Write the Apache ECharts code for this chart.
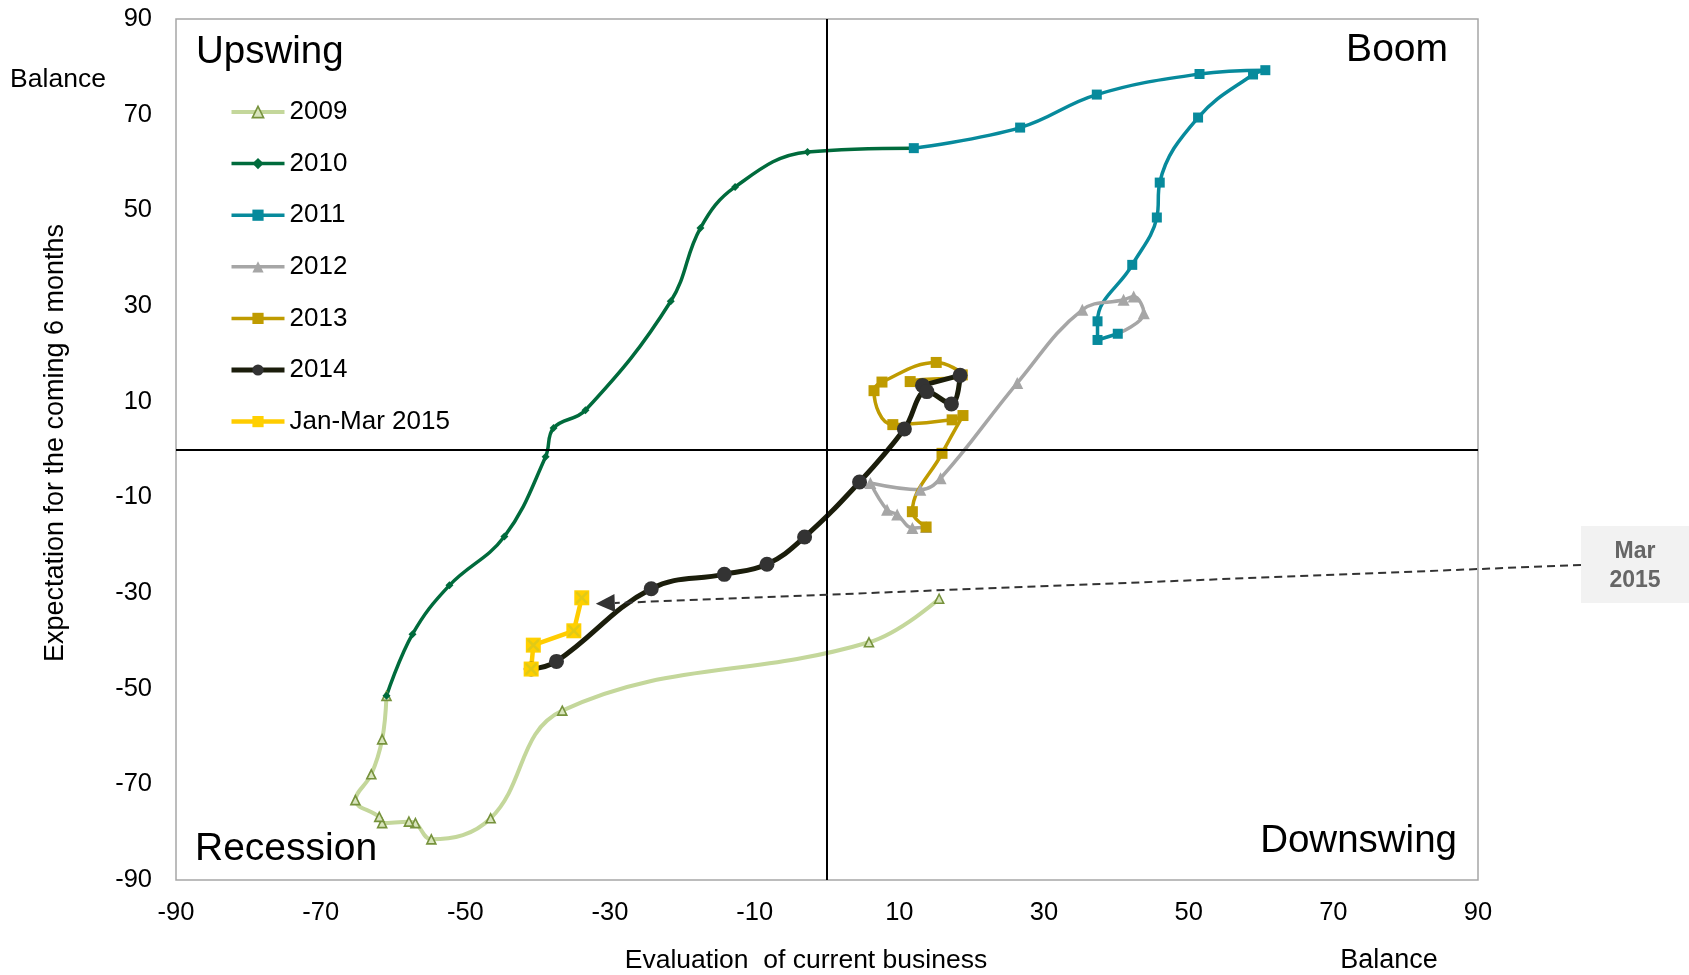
<!DOCTYPE html>
<html><head><meta charset="utf-8">
<script src="https://cdn.jsdelivr.net/npm/echarts@6/dist/echarts.min.js"></script>
<style>html,body{margin:0;padding:0;background:#fff}#c{width:1689px;height:975px}</style>
</head><body><div id="c"></div>
<script>
// ---- data ----
const tickLabels = [-90, -70, -50, -30, -10, 10, 30, 50, 70, 90];
const seriesNames = ['2009', '2010', '2011', '2012', '2013', '2014', 'Jan-Mar 2015'];
const d2009 = [[15.5,-31.2],[5.8,-40.3],[-36.6,-54.6],[-46.5,-77.1],[-54.7,-81.5],[-56.9,-78.1],[-57.8,-77.8],[-61.5,-78.1],[-61.9,-76.8],[-65.2,-73.3],[-63.0,-67.9],[-61.5,-60.6]];
const d2010 = [[-60.9,-51.5],[-57.3,-38.6],[-52.2,-28.4],[-44.6,-18.2],[-38.9,-1.5],[-37.8,4.5],[-33.4,8.2],[-21.6,31.0],[-17.5,46.3],[-12.7,54.9],[-2.7,62.2]];
const d2011 = [[12.0,63.0],[26.7,67.3],[37.3,74.2],[51.5,78.5],[60.6,79.3],[58.9,78.4],[51.3,69.4],[46.0,55.8],[45.6,48.5],[42.2,38.6],[37.4,26.8],[37.4,22.9]];
const d2012 = [[40.2,24.2],[43.8,28.5],[42.4,32.0],[41.0,31.3],[35.3,29.2],[26.3,13.9],[15.7,-6.0],[12.9,-8.4],[6.0,-7.0],[8.3,-12.6],[9.7,-13.6],[11.8,-16.4]];
const d2013 = [[13.7,-16.2],[11.8,-13.0],[15.9,-0.8],[18.8,7.1],[17.3,6.2],[9.1,5.2],[6.5,12.3],[7.6,14.1],[15.1,18.2],[18.7,15.6],[11.5,14.2]];
const d2014 = [[13.2,13.4],[18.4,15.5],[17.2,9.5],[13.8,12.1],[10.7,4.3],[4.5,-6.8],[-3.1,-18.3],[-8.3,-24.0],[-14.2,-26.1],[-24.3,-29.1],[-37.4,-44.3]];
const d2015 = [[-40.9,-45.9],[-40.6,-40.9],[-35.0,-37.9],[-33.9,-31.0]];
const annotationText = 'Mar\n2015';

// ---- chart ----
const FONT = "'Liberation Sans', Arial, sans-serif";
const chart = echarts.init(document.getElementById('c'), null, {renderer: 'canvas'});

const styles = [
  {line: '#c4d79b', width: 4, symbol: 'triangle', size: 9, fill: '#d8e4bc', border: '#76923c', bw: 1.6},
  {line: '#006b3c', width: 3.5, symbol: 'diamond', size: 8},
  {line: '#078a9c', width: 3.5, symbol: 'rect', size: 10},
  {line: '#a6a6a6', width: 3.5, symbol: 'triangle', size: 12},
  {line: '#bf9b00', width: 3.5, symbol: 'rect', size: 11},
  {line: '#1b1d0b', width: 5, symbol: 'circle', size: 15, fill: '#333333'},
  {line: '#ffcc00', width: 4.5, symbol: 'rect', size: 15, fill: '#ffd000', smooth: false}
];

function seriesData(own, next, hideFirst) {
  const arr = own.map((p, i) => (i === 0 && hideFirst) ? {value: p, symbol: 'none'} : p);
  if (next) arr.push(next[0]);
  return arr;
}
function itemStyleOf(o) {
  return Object.assign({color: o.fill || o.line}, o.border ? {borderColor: o.border, borderWidth: o.bw} : {borderWidth: 0});
}
function lineSeries(name, data, o) {
  return {
    name: name, type: 'line', data: data, smooth: o.smooth === undefined ? 0.4 : o.smooth,
    symbol: o.symbol, symbolSize: o.size, showSymbol: true, clip: false,
    lineStyle: {color: o.line, width: o.width},
    itemStyle: itemStyleOf(o),
    emphasis: {disabled: true}, z: 3
  };
}
const xPath = 'path://M0,0L3,0L10,7L17,0L20,0L20,3L13,10L20,17L20,20L17,20L10,13L3,20L0,20L0,17L7,10L0,3Z';

const option = {
  animation: false,
  backgroundColor: '#fff',
  grid: {left: 176, right: 211, top: 19, bottom: 95, show: true, borderColor: '#a6a6a6', borderWidth: 1.5, backgroundColor: 'transparent'},
  xAxis: {type: 'value', min: -90, max: 90,
    axisLine: {show: false}, axisTick: {show: false}, splitLine: {show: false},
    axisLabel: {customValues: tickLabels, fontSize: 25.5, color: '#000', fontFamily: FONT, margin: 20}},
  yAxis: {type: 'value', min: -90, max: 90,
    axisLine: {show: false}, axisTick: {show: false}, splitLine: {show: false},
    axisLabel: {customValues: tickLabels, fontSize: 25.5, color: '#000', fontFamily: FONT, margin: 24}},
  legend: {
    data: seriesNames.map((n, i) => ({
      name: n,
      lineStyle: {color: styles[i].line, width: styles[i].width},
      itemStyle: itemStyleOf(styles[i])
    })),
    orient: 'vertical', left: 229, top: 99, itemGap: 25.6, padding: 0,
    itemWidth: 53, itemHeight: 14,
    textStyle: {fontSize: 26, color: '#000', fontFamily: FONT}
  },
  series: [
    {type: 'line', data: [], silent: true, z: 1,
      markLine: {silent: true, symbol: ['none', 'none'], label: {show: false},
        lineStyle: {color: '#000', width: 2, type: 'solid'},
        data: [{xAxis: 0}, {yAxis: 0}]}},
    lineSeries(seriesNames[0], seriesData(d2009, d2010), styles[0]),
    lineSeries(seriesNames[1], seriesData(d2010, d2011), styles[1]),
    lineSeries(seriesNames[2], seriesData(d2011, d2012), styles[2]),
    lineSeries(seriesNames[3], seriesData(d2012, d2013, true), styles[3]),
    lineSeries(seriesNames[4], seriesData(d2013, d2014), styles[4]),
    lineSeries(seriesNames[5], seriesData(d2014, d2015), styles[5]),
    lineSeries(seriesNames[6], seriesData(d2015), styles[6]),
    {name: 'x-marks', type: 'scatter', data: d2015, symbol: xPath, symbolSize: 12, z: 4, silent: true,
      itemStyle: {color: '#d9c81c'}}
  ],
  graphic: [
    {type: 'text', x: 58, y: 80, style: {text: 'Balance', fontSize: 26.5, fontFamily: FONT, fill: '#000', textAlign: 'center', textVerticalAlign: 'middle'}},
    {type: 'text', x: 56, y: 443, rotation: Math.PI / 2, style: {text: 'Expectation for the coming 6 months', fontSize: 27, fontFamily: FONT, fill: '#000', textAlign: 'center', textVerticalAlign: 'middle'}},
    {type: 'text', x: 806, y: 961, style: {text: 'Evaluation  of current business', fontSize: 26.5, fontFamily: FONT, fill: '#000', textAlign: 'center', textVerticalAlign: 'middle'}},
    {type: 'text', x: 1389, y: 961, style: {text: 'Balance', fontSize: 27, fontFamily: FONT, fill: '#000', textAlign: 'center', textVerticalAlign: 'middle'}},
    {type: 'text', x: 196, y: 52, style: {text: 'Upswing', fontSize: 38.5, fontFamily: FONT, fill: '#000', textAlign: 'left', textVerticalAlign: 'middle'}},
    {type: 'text', x: 1448, y: 50, style: {text: 'Boom', fontSize: 39, fontFamily: FONT, fill: '#000', textAlign: 'right', textVerticalAlign: 'middle'}},
    {type: 'text', x: 195, y: 849, style: {text: 'Recession', fontSize: 39, fontFamily: FONT, fill: '#000', textAlign: 'left', textVerticalAlign: 'middle'}},
    {type: 'text', x: 1457, y: 841, style: {text: 'Downswing', fontSize: 38.5, fontFamily: FONT, fill: '#000', textAlign: 'right', textVerticalAlign: 'middle'}}
  ]
};
chart.setOption(option);

// annotation box and dashed connector with arrow to Mar 2015
const last = d2015[d2015.length - 1];
const pt = chart.convertToPixel({gridIndex: 0}, last);
const tip = [pt[0] + 14, pt[1] + 6];
const start = [1581, 565];
const dx = tip[0] - start[0], dy = tip[1] - start[1];
const len = Math.sqrt(dx * dx + dy * dy);
const ux = dx / len, uy = dy / len;
const aL = 19, aW = 9;
const base = [tip[0] - ux * aL, tip[1] - uy * aL];
chart.setOption({graphic: option.graphic.concat([
  {type: 'rect', shape: {x: 1581, y: 526, width: 108, height: 77}, style: {fill: '#f2f2f2'}, z: 10},
  {type: 'text', x: 1635, y: 566, z: 11, style: {text: annotationText, fontSize: 23, fontWeight: 'bold', fontFamily: FONT, fill: '#666666', textAlign: 'center', textVerticalAlign: 'middle', lineHeight: 29}},
  {type: 'line', shape: {x1: start[0], y1: start[1], x2: base[0], y2: base[1]}, style: {stroke: '#333333', lineWidth: 2, lineDash: [8, 5]}, z: 10},
  {type: 'polygon', shape: {points: [tip, [base[0] - uy * aW, base[1] + ux * aW], [base[0] + uy * aW, base[1] - ux * aW]]}, style: {fill: '#333333'}, z: 10}
])});
</script>
</body></html>
